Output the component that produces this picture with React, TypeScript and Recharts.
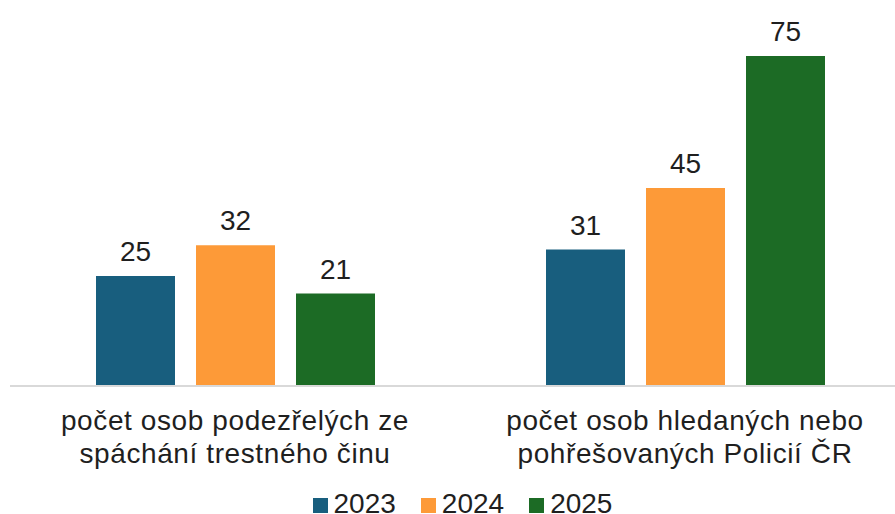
import { BarChart, Bar, XAxis, YAxis, LabelList } from "recharts";

const categories = [
  ["počet osob podezřelých ze", "spáchání trestného činu"],
  ["počet osob hledaných nebo", "pohřešovaných Policií ČR"],
];
const years = ["2023", "2024", "2025"];
const values2023 = [25, 31];
const values2024 = [32, 45];
const values2025 = [21, 75];

const COLORS = ["#185e7e", "#fd9a38", "#1c6b25"];
const FONT = "'Liberation Sans', Arial, sans-serif";

const data = categories.map((lines, i) => ({
  name: lines.join("\n"),
  y2023: values2023[i],
  y2024: values2024[i],
  y2025: values2025[i],
}));

function CategoryTick({ x, y, payload }: any) {
  const lines = String(payload.value).split("\n");
  return (
    <text
      x={x}
      y={y}
      textAnchor="middle"
      fill="#1f1f1f"
      fontSize={28}
      letterSpacing={0.6}
      fontFamily={FONT}
    >
      {lines.map((l, i) => (
        <tspan key={i} x={x} dy={i === 0 ? 36 : 33}>
          {l}
        </tspan>
      ))}
    </text>
  );
}

export default function App() {
  const keys = ["y2023", "y2024", "y2025"];
  return (
    <div
      style={{
        position: "absolute",
        top: 0,
        left: 0,
        width: 895,
        height: 514,
        overflow: "hidden",
        background: "#fff",
        fontFamily: FONT,
      }}
    >
      <BarChart
        width={910}
        height={514}
        data={data}
        margin={{ top: 34, right: 0, left: 10, bottom: 98 }}
        barCategoryGap={86}
        barGap={21}
      >
        <XAxis
          dataKey="name"
          axisLine={{ stroke: "#d9d9d9", strokeWidth: 2 }}
          tickLine={false}
          tick={<CategoryTick />}
          interval={0}
        />
        <YAxis hide domain={[0, 80]} />
        {keys.map((k, i) => (
          <Bar key={k} dataKey={k} fill={COLORS[i]} isAnimationActive={false}>
            <LabelList
              dataKey={k}
              position="top"
              offset={15}
              fill="#1f1f1f"
              fontSize={28}
              fontFamily={FONT}
            />
          </Bar>
        ))}
      </BarChart>
      <div
        style={{
          position: "absolute",
          top: 489,
          left: 0,
          width: 895,
          display: "flex",
          justifyContent: "center",
          paddingLeft: 30,
          boxSizing: "border-box",
          gap: 25,
          fontSize: 28,
          color: "#1f1f1f",
          lineHeight: "30px",
        }}
      >
        {years.map((y, i) => (
          <div key={y} style={{ display: "flex", alignItems: "center" }}>
            <span
              style={{
                display: "inline-block",
                width: 15,
                height: 15,
                background: COLORS[i],
                marginRight: 6,
                marginTop: 2,
              }}
            />
            <span>{y}</span>
          </div>
        ))}
      </div>
    </div>
  );
}
